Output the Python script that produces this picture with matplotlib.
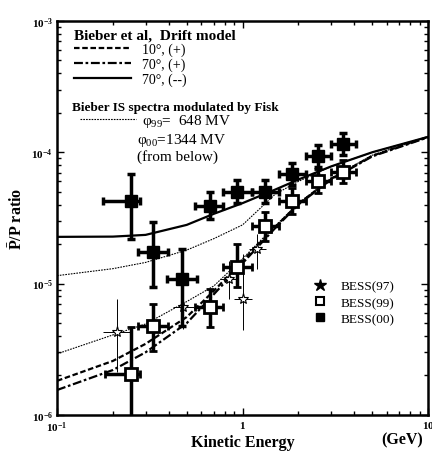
import matplotlib
matplotlib.use("Agg")
import matplotlib.pyplot as plt
from matplotlib.lines import Line2D

plt.rcParams['font.family'] = ['Liberation Serif', 'DejaVu Serif']
plt.rcParams['mathtext.fontset'] = 'custom'
plt.rcParams['mathtext.rm'] = 'Liberation Serif'
plt.rcParams['mathtext.it'] = 'Liberation Serif:italic'
plt.rcParams['mathtext.bf'] = 'Liberation Serif:bold'

# model curves
e_curve = [0.1, 0.2, 0.3, 0.5, 0.7, 1.0, 1.5, 2.0, 3.0, 5.0, 10.0]
drift_10_pos = [1.82e-6, 2.58e-6, 3.48e-6, 5.57e-6, 8.8e-6, 1.49e-5, 2.7e-5, 4.05e-5, 6.27e-5, 9.4e-5, 1.31e-4]
drift_70_pos = [1.55e-6, 2.2e-6, 3.0e-6, 5.0e-6, 8.3e-6, 1.43e-5, 2.65e-5, 4.0e-5, 6.2e-5, 9.3e-5, 1.3e-4]
drift_70_neg = [2.27e-5, 2.28e-5, 2.35e-5, 2.8e-5, 3.4e-5, 4.1e-5, 5.2e-5, 6.2e-5, 7.8e-5, 1.0e-4, 1.31e-4]
fisk_648 = [2.92e-6, 4.07e-6, 4.93e-6, 7.3e-6, 9.6e-6, 1.55e-5, 2.75e-5, 4.1e-5, 6.35e-5, 9.5e-5, 1.31e-4]
fisk_1344 = [1.15e-5, 1.3e-5, 1.45e-5, 1.8e-5, 2.2e-5, 2.8e-5, 4.8e-5, 6.0e-5, 7.8e-5, 1.0e-4, 1.31e-4]

# BESS(00)
e00 = [0.25, 0.33, 0.47, 0.67, 0.93, 1.32, 1.85, 2.55, 3.48]
e00_lo = [0.177, 0.273, 0.392, 0.555, 0.78, 1.12, 1.57, 2.2, 3.0]
e00_hi = [0.28, 0.396, 0.569, 0.785, 1.12, 1.57, 2.2, 3.0, 4.1]
r00 = [4.27e-5, 1.74e-5, 1.09e-5, 3.91e-5, 4.99e-5, 5.0e-5, 6.84e-5, 9.4e-5, 1.16e-4]
r00_lo = [2.19e-5, 9.4e-6, 4.76e-6, 3.11e-5, 4.1e-5, 4.1e-5, 5.6e-5, 7.7e-5, 9.6e-5]
r00_hi = [6.8e-5, 2.95e-5, 1.84e-5, 4.99e-5, 6.1e-5, 6.1e-5, 8.3e-5, 1.14e-4, 1.4e-4]

# BESS(99)
e99 = [0.25, 0.33, 0.67, 0.93, 1.32, 1.85, 2.55, 3.48]
e99_lo = [0.182, 0.273, 0.555, 0.78, 1.12, 1.57, 2.2, 3.0]
e99_hi = [0.28, 0.396, 0.785, 1.12, 1.57, 2.2, 3.0, 4.1]
r99 = [2.05e-6, 4.76e-6, 6.65e-6, 1.34e-5, 2.75e-5, 4.26e-5, 6.05e-5, 7.1e-5]
r99_lo = [5e-7, 3.07e-6, 4.68e-6, 9.5e-6, 2.1e-5, 3.4e-5, 4.9e-5, 5.8e-5]
r99_hi = [4.68e-6, 7.0e-6, 9.1e-6, 2.0e-5, 3.5e-5, 5.3e-5, 7.4e-5, 8.7e-5]

# BESS(97)
e97 = [0.21, 0.48, 0.84, 1.0, 1.2]
e97_lo = [0.177, 0.42, 0.76, 0.9, 1.08]
e97_hi = [0.248, 0.55, 0.93, 1.12, 1.33]
r97 = [4.28e-6, 6.6e-6, 1.09e-5, 7.6e-6, 1.84e-5]
r97_lo = [2.13e-6, 4.5e-6, 7.6e-6, 4.4e-6, 1.3e-5]
r97_hi = [7.6e-6, 1.0e-5, 1.5e-5, 1.68e-5, 2.4e-5]


def errs(x, lo, hi):
    return [[a - b for a, b in zip(x, lo)], [b - a for a, b in zip(x, hi)]]


fig = plt.figure(figsize=(4.32, 4.52), dpi=100)
ax = fig.add_axes([0.132, 0.0796, 0.859, 0.872])
ax.set_xscale('log')
ax.set_yscale('log')
ax.set_xlim(0.1, 10)
ax.set_ylim(1e-6, 1e-3)

l10, = ax.plot(e_curve, drift_10_pos, color='black', lw=1.6, dashes=(2.5, 1.2), zorder=2)
l70p, = ax.plot(e_curve, drift_70_pos, color='black', lw=1.6, dashes=(4, 1.2, 1.2, 1.2), zorder=2)
l70n, = ax.plot(e_curve, drift_70_neg, color='black', lw=1.6, zorder=2)
lf, = ax.plot(e_curve, fisk_648, color='black', lw=0.8, dashes=(1.5, 1), zorder=2)
ax.plot(e_curve, fisk_1344, color='black', lw=0.8, dashes=(1.5, 1), zorder=2)

ax.errorbar(e97, r97, xerr=errs(e97, e97_lo, e97_hi), yerr=errs(r97, r97_lo, r97_hi),
            fmt='*', ms=8, mfc='white', mec='black', mew=0.8, ecolor='black',
            elinewidth=0.7, capsize=0, zorder=3)
ax.errorbar(e99, r99, xerr=errs(e99, e99_lo, e99_hi), yerr=errs(r99, r99_lo, r99_hi),
            fmt='s', ms=8, mfc='white', mec='black', mew=2, ecolor='black',
            elinewidth=2.5, capsize=3, capthick=2.5, zorder=4)
ax.errorbar(e00, r00, xerr=errs(e00, e00_lo, e00_hi), yerr=errs(r00, r00_lo, r00_hi),
            fmt='s', ms=9, mfc='black', mec='black', ecolor='black',
            elinewidth=2.5, capsize=3, capthick=2.5, zorder=5)

for s in ax.spines.values():
    s.set_linewidth(1.8)
ax.tick_params(which='both', direction='in', top=True, right=True, width=1)
ax.tick_params(which='major', length=5, labelsize=8, pad=3)
ax.tick_params(which='minor', length=3)
ax.set_yticks([1e-6, 1e-5, 1e-4, 1e-3])
ax.set_yticklabels([r'$\mathbf{10^{-6}}$', r'$\mathbf{10^{-5}}$', r'$\mathbf{10^{-4}}$', r'$\mathbf{10^{-3}}$'])
ax.set_xticks([0.1, 1, 10])
ax.set_xticklabels([r'$\mathbf{10^{-1}}$', r'$\mathbf{1}$', r'$\mathbf{10}$'])

ax.set_xlabel('Kinetic Energy', fontsize=11.5, fontweight='bold', labelpad=0)
ax.text(0.93, -0.062, '(GeV)', transform=ax.transAxes, fontsize=11.5, fontweight='bold',
        ha='center', va='center')
ax.set_ylabel(r'$\mathbf{\bar{P}}$/P ratio', fontsize=11.5, fontweight='bold', labelpad=4)

leg1 = ax.legend([l10, l70p, l70n], ['10°, (+)', '70°, (+)', '70°, (--)'],
                 loc='upper left', bbox_to_anchor=(0.015, 1.01), frameon=False, fontsize=10,
                 handlelength=4.1, labelspacing=0.12, borderpad=0.3,
                 title='Bieber et al,  Drift model', alignment='left',
                 title_fontproperties={'size': 11, 'weight': 'bold'})
ax.add_artist(leg1)

ax.text(0.04, 0.782, 'Bieber IS spectra modulated by Fisk', transform=ax.transAxes,
        fontsize=9.5, fontweight='bold', va='center')
leg2 = ax.legend([lf], [r'φ$_{99}$=  648 MV'], loc='center left', bbox_to_anchor=(0.04, 0.746),
                 frameon=False, fontsize=11, handlelength=3.7, handletextpad=0.4, borderpad=0)
ax.add_artist(leg2)
ax.text(0.216, 0.70, r'φ$_{00}$=1344 MV', transform=ax.transAxes, fontsize=11, va='center')
ax.text(0.216, 0.657, '(from below)', transform=ax.transAxes, fontsize=11, va='center')

h97 = Line2D([], [], ls='none', marker='*', ms=9, mfc='black', mec='black')
h99 = Line2D([], [], ls='none', marker='s', ms=6, mfc='white', mec='black', mew=1.5)
h00 = Line2D([], [], ls='none', marker='s', ms=6, mfc='black', mec='black')
ax.legend([h97, h99, h00], ['BESS(97)', 'BESS(99)', 'BESS(00)'], loc='center left',
          bbox_to_anchor=(0.64, 0.285), frameon=False, fontsize=9.5, handletextpad=0.6,
          labelspacing=0.3)

fig.savefig('out.png', dpi=100)
